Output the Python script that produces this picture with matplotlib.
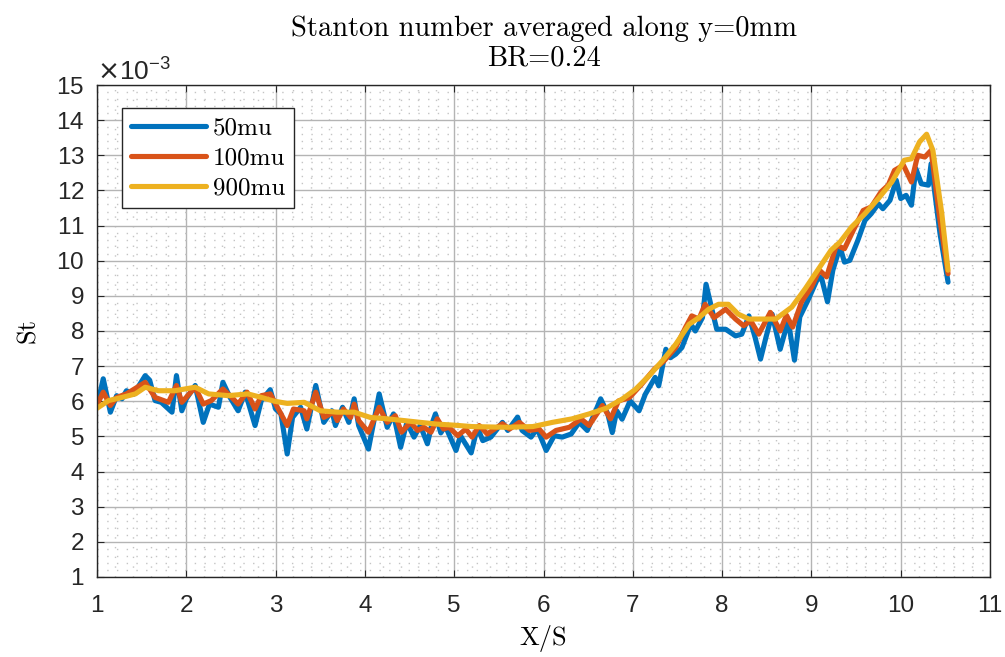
import matplotlib
matplotlib.use('Agg')
import matplotlib.pyplot as plt
from matplotlib.ticker import MultipleLocator, ScalarFormatter
import numpy as np

# Stanton number along y=0mm, values in units of 1e-3
x_50 = [1.00, 1.07, 1.15, 1.22, 1.28, 1.33, 1.41, 1.54, 1.59, 1.65, 1.72, 1.84, 1.89, 1.95, 2.00,
        2.10, 2.19, 2.26, 2.36, 2.41, 2.49, 2.58, 2.66, 2.77, 2.84, 2.94, 3.00, 3.06, 3.13, 3.19,
        3.28, 3.35, 3.45, 3.54, 3.63, 3.67, 3.75, 3.82, 3.88, 3.93, 4.04, 4.16, 4.25, 4.32, 4.40,
        4.47, 4.55, 4.62, 4.70, 4.75, 4.79, 4.85, 4.90, 4.96, 5.02, 5.07, 5.19, 5.26, 5.32, 5.41,
        5.54, 5.60, 5.71, 5.76, 5.86, 5.93, 6.03, 6.12, 6.21, 6.31, 6.40, 6.49, 6.57, 6.64, 6.72,
        6.77, 6.82, 6.88, 6.97, 7.07, 7.14, 7.25, 7.29, 7.37, 7.42, 7.48, 7.55, 7.65, 7.70, 7.78,
        7.82, 7.89, 7.94, 8.04, 8.15, 8.22, 8.30, 8.37, 8.43, 8.49, 8.56, 8.65, 8.74, 8.81, 8.87,
        8.96, 9.06, 9.11, 9.18, 9.24, 9.32, 9.37, 9.43, 9.52, 9.60, 9.67, 9.75, 9.80, 9.88, 9.95,
        10.00, 10.06, 10.12, 10.17, 10.23, 10.31, 10.34, 10.44, 10.53]
st_50 = [5.85, 6.64, 5.69, 6.16, 6.07, 6.30, 6.20, 6.73, 6.60, 6.02, 5.97, 5.69, 6.73, 5.73, 6.07,
         6.45, 5.40, 5.92, 5.83, 6.54, 6.11, 5.73, 6.26, 5.31, 6.02, 6.33, 5.78, 5.64, 4.50, 5.54,
         5.83, 5.21, 6.45, 5.40, 5.73, 5.31, 5.83, 5.40, 6.07, 5.31, 4.64, 6.21, 5.26, 5.64, 4.69,
         5.40, 4.98, 5.31, 4.79, 5.35, 5.64, 5.10, 5.30, 4.95, 4.60, 5.02, 4.53, 5.26, 4.88, 4.98,
         5.40, 5.17, 5.55, 5.17, 4.98, 5.22, 4.60, 5.02, 4.98, 5.07, 5.40, 5.17, 5.64, 6.07, 5.64,
         5.11, 5.73, 5.49, 6.01, 5.73, 6.20, 6.68, 6.44, 7.48, 7.24, 7.34, 7.53, 8.19, 8.00, 8.38,
         9.33, 8.57, 8.05, 8.05, 7.86, 7.91, 8.43, 7.81, 7.20, 7.81, 8.48, 7.48, 8.30, 7.17, 8.40,
         8.87, 9.44, 9.54, 8.83, 9.73, 10.39, 9.96, 10.01, 10.58, 11.15, 11.34, 11.62, 11.48, 11.72, 12.29,
         11.77, 11.86, 11.58, 12.62, 12.19, 12.15, 12.76, 10.77, 9.39]

x_100 = [1.00, 1.07, 1.15, 1.22, 1.33, 1.54, 1.65, 1.80, 1.89, 1.95, 2.10, 2.19, 2.28, 2.41, 2.51,
         2.58, 2.68, 2.77, 2.84, 2.94, 3.02, 3.13, 3.20, 3.32, 3.35, 3.45, 3.54, 3.65, 3.69, 3.76,
         3.84, 3.88, 3.93, 4.04, 4.16, 4.25, 4.34, 4.41, 4.51, 4.59, 4.66, 4.74, 4.81, 4.88, 4.94,
         5.04, 5.13, 5.20, 5.28, 5.37, 5.54, 5.62, 5.73, 5.84, 5.95, 6.03, 6.14, 6.29, 6.42, 6.51,
         6.66, 6.75, 6.84, 6.96, 7.10, 7.24, 7.35, 7.48, 7.59, 7.66, 7.74, 7.81, 7.91, 8.04, 8.15,
         8.24, 8.32, 8.41, 8.54, 8.65, 8.72, 8.79, 8.89, 9.00, 9.09, 9.17, 9.28, 9.37, 9.47, 9.58,
         9.67, 9.78, 9.86, 9.93, 10.03, 10.12, 10.19, 10.27, 10.34, 10.44, 10.53]
st_100 = [5.90, 6.26, 5.88, 6.11, 6.21, 6.54, 6.11, 5.97, 6.45, 5.97, 6.40, 5.92, 6.02, 6.35, 6.11,
          5.92, 6.26, 5.78, 6.16, 6.21, 5.83, 5.31, 5.78, 5.73, 5.50, 6.26, 5.54, 5.69, 5.45, 5.78,
          5.54, 5.92, 5.45, 5.12, 5.83, 5.40, 5.59, 5.12, 5.40, 5.17, 5.26, 5.12, 5.50, 5.21, 5.26,
          5.02, 5.21, 4.98, 5.31, 5.07, 5.36, 5.21, 5.40, 5.17, 5.21, 4.98, 5.17, 5.26, 5.50, 5.31,
          5.88, 5.50, 6.01, 6.10, 6.49, 6.91, 7.15, 7.53, 8.10, 8.43, 8.34, 8.76, 8.38, 8.62, 8.34,
          8.15, 8.29, 7.91, 8.53, 8.00, 8.45, 8.11, 8.83, 9.25, 9.73, 9.54, 10.44, 10.34, 10.87, 11.43,
          11.53, 11.96, 12.15, 12.57, 12.72, 12.24, 13.00, 12.95, 13.14, 11.15, 9.63]

x_900 = [1.00, 1.13, 1.28, 1.43, 1.54, 1.69, 1.87, 2.10, 2.25, 2.47, 2.69, 2.84, 2.99, 3.13, 3.32,
         3.50, 3.69, 3.88, 4.06, 4.25, 4.44, 4.62, 4.81, 5.00, 5.20, 5.58, 5.88, 6.10, 6.32, 6.51,
         6.70, 6.88, 7.03, 7.18, 7.33, 7.48, 7.63, 7.74, 7.85, 7.96, 8.07, 8.18, 8.30, 8.45, 8.60,
         8.78, 8.93, 9.07, 9.22, 9.32, 9.45, 9.60, 9.75, 9.90, 10.04, 10.12, 10.21, 10.29, 10.36, 10.46,
         10.53]
st_900 = [5.80, 6.02, 6.11, 6.21, 6.40, 6.30, 6.30, 6.40, 6.21, 6.16, 6.21, 6.11, 6.00, 5.94, 5.97,
          5.73, 5.69, 5.69, 5.54, 5.50, 5.45, 5.40, 5.35, 5.32, 5.28, 5.26, 5.28, 5.40, 5.50, 5.64,
          5.80, 6.06, 6.34, 6.72, 7.15, 7.62, 8.19, 8.38, 8.62, 8.76, 8.76, 8.48, 8.34, 8.34, 8.34,
          8.68, 9.20, 9.73, 10.30, 10.53, 10.96, 11.34, 11.77, 12.24, 12.86, 12.90, 13.38, 13.60, 13.14, 11.34,
          9.73]

series = [(x_50, st_50, '50mu', '#0072BD'),
          (x_100, st_100, '100mu', '#D95319'),
          (x_900, st_900, '900mu', '#EDB120')]

serif = 'cmr10'
tick_font = 'Liberation Sans'

fig = plt.figure(figsize=(10.05, 6.57), dpi=100)
ax = fig.add_axes([0.0965, 0.1218, 0.8886, 0.7488])

for xs, ys, name, col in series:
    ax.plot(xs, np.array(ys) * 1e-3, color=col, lw=3.7, label=name,
            solid_joinstyle='round', solid_capstyle='round')

ax.set_xlim(1, 11)
ax.set_ylim(1e-3, 15e-3)
ax.xaxis.set_major_locator(MultipleLocator(1))
ax.xaxis.set_minor_locator(MultipleLocator(0.2))
ax.yaxis.set_major_locator(MultipleLocator(1e-3))
ax.yaxis.set_minor_locator(MultipleLocator(0.2e-3))

fmt = ScalarFormatter(useMathText=True)
fmt.set_powerlimits((-3, -3))
ax.yaxis.set_major_formatter(fmt)

ax.grid(True, which='major', color='#b4b4b4', lw=1.0, ls='-')
ax.grid(True, which='minor', color='#c4c4c4', lw=1.0, ls=(0, (1, 6)))
ax.set_axisbelow(True)

for sp in ax.spines.values():
    sp.set_color('#262626')
    sp.set_linewidth(1.0)
ax.tick_params(which='both', direction='in', top=True, right=True, colors='#262626')
ax.tick_params(which='major', length=5, labelsize=17.5)
ax.tick_params(axis='x', which='major', pad=13)
ax.tick_params(axis='y', which='major', pad=9)
ax.tick_params(which='minor', length=0)
for lab in ax.get_xticklabels() + ax.get_yticklabels():
    lab.set_fontfamily(tick_font)

off = ax.yaxis.get_offset_text()
off.set_fontsize(19)
off.set_fontfamily(tick_font)
off.set_y(1.008)

ax.set_xlabel('X/S', fontfamily=serif, fontsize=19, labelpad=6)
ax.set_ylabel('St', fontfamily=serif, fontsize=19, labelpad=12)
ax.set_title('Stanton number averaged along y=0mm\nBR=0.24', fontfamily=serif,
             fontsize=20.5, linespacing=1.15, pad=14)

leg = ax.legend(loc='upper left', bbox_to_anchor=(0.028, 0.953), borderaxespad=0,
                prop={'family': serif, 'size': 18},
                frameon=True, fancybox=False, edgecolor='#262626', framealpha=1,
                handlelength=3.0, handletextpad=0.3, borderpad=0.35, labelspacing=0.3)
leg.get_frame().set_linewidth(1.0)

fig.savefig('out.png', dpi=100)
